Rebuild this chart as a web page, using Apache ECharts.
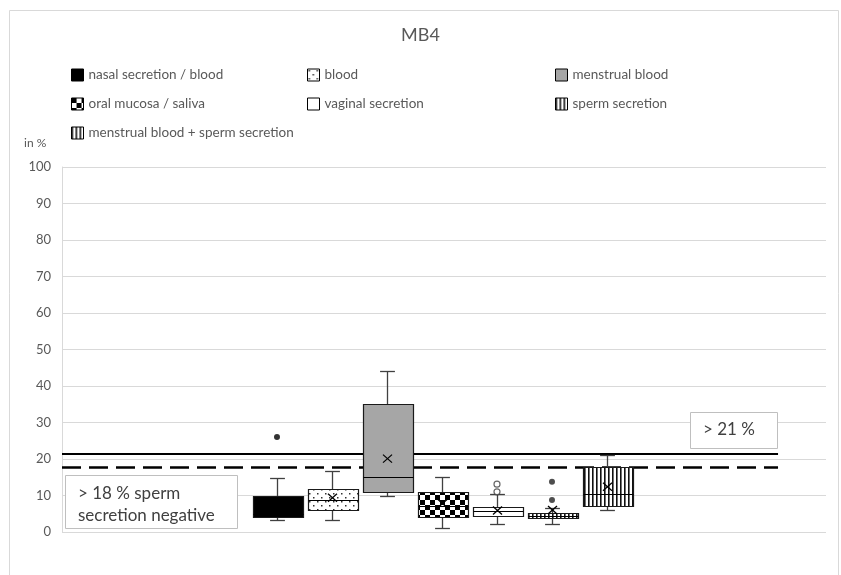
<!DOCTYPE html>
<html><head><meta charset="utf-8">
<script src="https://cdn.jsdelivr.net/npm/echarts/dist/echarts.min.js"></script>
<style>html,body{margin:0;padding:0;background:#fff}#c{width:841px;height:575px}</style>
</head><body><div id="c"></div>
<script>
// ---------- data ----------
const categories = ['nasal secretion / blood', 'blood', 'menstrual blood', 'oral mucosa / saliva', 'vaginal secretion', 'sperm secretion', 'menstrual blood + sperm secretion'];
const whiskerLow  = [3.2, 3.2, 10, 1.2, 2.2, 2.2, 6];
const quartile1   = [4, 6, 11, 4, 4.4, 3.8, 7];
const medianVals  = [5, 8.8, 15, 7, 5.7, 4.5, 10.5];
const quartile3   = [10, 11.7, 35, 11, 6.8, 5.3, 17.7];
const whiskerHigh = [14.9, 16.8, 44, 15, 10.3, 6.7, 21];
const meanVals    = [7, 9.4, 20.1, 7.8, 5.9, 6, 12.4];
const outliers    = [[26], [], [], [], [13.1, 11], [13.8, 8.8], []];
const yTicks      = [0, 10, 20, 30, 40, 50, 60, 70, 80, 90, 100];
const thresholdSolid  = 21.4;
const thresholdDashed = 17.7;
const titleText = 'MB4';
const yUnitText = 'in %';
const note18 = '> 18 % sperm\nsecretion negative';
const note21 = '> 21 %';

// ---------- styles ----------
function pattern(kind) {
  const c = document.createElement('canvas');
  const ctx = c.getContext('2d');
  if (kind === 'dots') {
    c.width = 8; c.height = 8;
    ctx.fillStyle = '#fff'; ctx.fillRect(0, 0, 8, 8);
    ctx.fillStyle = '#333'; ctx.fillRect(1, 1, 1.5, 1.5); ctx.fillRect(5, 5, 1.5, 1.5);
  } else if (kind === 'checker') {
    c.width = 10; c.height = 10;
    ctx.fillStyle = '#fff'; ctx.fillRect(0, 0, 10, 10);
    ctx.fillStyle = '#000'; ctx.fillRect(0, 0, 5, 5); ctx.fillRect(5, 5, 5, 5);
  } else if (kind === 'vstripes') {
    c.width = 4; c.height = 4;
    ctx.fillStyle = '#fff'; ctx.fillRect(0, 0, 4, 4);
    ctx.fillStyle = '#111'; ctx.fillRect(0, 0, 1.6, 4);
  }
  return { image: c, repeat: 'repeat' };
}
const fills = ['#000', pattern('dots'), '#a6a6a6', pattern('checker'), '#fff', pattern('vstripes'), pattern('vstripes')];
const outlierStyles = [
  { color: '#000' }, {}, {}, {},
  { color: '#fff', borderColor: '#404040', borderWidth: 1.2 },
  { color: '#222' }, {}
];
const strokeCol = '#404040';
const textCol = '#595959';
const FONT = 'Lato';

const xMin = -3.909, xMax = 9.982, lineEnd = 9.11;

function renderBox(params, api) {
  const x = api.value(0);
  const unit = api.size([1, 0])[0];
  const halfBox = unit * 0.4545;
  const halfCap = unit * 0.135;
  const cx = Math.round(api.coord([x, 0])[0]) + 0.5;
  const Y = i => Math.round(api.coord([x, api.value(i)])[1]) + 0.5;
  const yLow = Y(1), yQ1 = Y(2), yMed = Y(3), yQ3 = Y(4), yHigh = Y(5), yMean = api.coord([x, api.value(6)])[1];
  const ls = { stroke: strokeCol, lineWidth: 1.3 };
  const fill = fills[params.seriesIndex];
  const bx = Math.round(cx - halfBox) + 0.5, bw = Math.round(2 * halfBox);
  const xs = { stroke: '#000', lineWidth: 1.3 };
  return {
    type: 'group', children: [
      { type: 'line', shape: { x1: cx, y1: yHigh, x2: cx, y2: yQ3 }, style: ls },
      { type: 'line', shape: { x1: cx, y1: yQ1, x2: cx, y2: yLow }, style: ls },
      { type: 'line', shape: { x1: cx - halfCap, y1: yHigh, x2: cx + halfCap, y2: yHigh }, style: ls },
      { type: 'line', shape: { x1: cx - halfCap, y1: yLow, x2: cx + halfCap, y2: yLow }, style: ls },
      { type: 'rect', shape: { x: bx, y: yQ3, width: bw, height: yQ1 - yQ3 }, style: { fill: fill, stroke: '#1a1a1a', lineWidth: 1.2 } },
      { type: 'line', shape: { x1: bx, y1: yMed, x2: bx + bw, y2: yMed }, style: { stroke: '#000', lineWidth: 1.2 } },
      { type: 'line', shape: { x1: cx - 4.5, y1: yMean - 4, x2: cx + 4.5, y2: yMean + 4 }, style: xs },
      { type: 'line', shape: { x1: cx - 4.5, y1: yMean + 4, x2: cx + 4.5, y2: yMean - 4 }, style: xs }
    ]
  };
}

const series = [];
categories.forEach((name, i) => {
  series.push({
    name: name, type: 'custom', renderItem: renderBox,
    itemStyle: { color: fills[i] },
    encode: { x: 0, y: [1, 2, 3, 4, 5, 6] },
    data: [[i, whiskerLow[i], quartile1[i], medianVals[i], quartile3[i], whiskerHigh[i], meanVals[i]]],
    z: 3
  });
});
categories.forEach((name, i) => {
  if (!outliers[i].length) return;
  series.push({
    name: 'outliers ' + name, type: 'scatter', symbol: 'circle', symbolSize: 6,
    itemStyle: outlierStyles[i],
    data: outliers[i].map(v => [i, v]), z: 4
  });
});
series.push({
  name: 'threshold solid', type: 'line', symbol: 'none', silent: true,
  lineStyle: { color: '#000', width: 2 },
  data: [[xMin, thresholdSolid], [lineEnd, thresholdSolid]], z: 2
});
series.push({
  name: 'threshold dashed', type: 'line', symbol: 'none', silent: true,
  lineStyle: { color: '#000', width: 2.5, type: [19, 8] },
  data: [[xMin, thresholdDashed], [lineEnd, thresholdDashed]], z: 2
});

const legendCols = [71, 307, 555];
const legendRows = [68, 97, 126];
const legends = categories.map((name, i) => ({
  left: legendCols[i % 3], top: legendRows[Math.floor(i / 3)],
  orient: 'horizontal', selectedMode: false, padding: 0,
  itemWidth: 12, itemHeight: 12, itemGap: 5,
  textStyle: { fontFamily: FONT, fontSize: 13.5, color: textCol },
  data: [{ name: name, icon: 'rect', itemStyle: { color: fills[i], borderColor: '#000', borderWidth: 1 } }]
}));

const chart = echarts.init(document.getElementById('c'), null, { renderer: 'canvas' });
chart.setOption({
  animation: false,
  backgroundColor: '#fff',
  title: { text: titleText, left: 'center', top: 21, textStyle: { fontFamily: FONT, fontSize: 18, fontWeight: 'normal', color: textCol } },
  legend: legends,
  grid: { left: 62, right: 15, top: 167, bottom: 43 },
  xAxis: { type: 'value', min: xMin, max: xMax, show: false },
  yAxis: {
    type: 'value', min: yTicks[0], max: yTicks[yTicks.length - 1], interval: yTicks[1] - yTicks[0],
    axisLine: { show: true, onZero: false, lineStyle: { color: '#d9d9d9' } },
    axisTick: { show: false },
    axisLabel: { fontFamily: FONT, fontSize: 13, color: textCol, margin: 11 },
    splitLine: { lineStyle: { color: '#d9d9d9', width: 1 } }
  },
  graphic: [
    { type: 'rect', shape: { x: 9.5, y: 10.5, width: 829, height: 600 }, style: { fill: 'none', stroke: '#d9d9d9', lineWidth: 1 }, z: 0, silent: true },
    { type: 'text', left: 24, top: 137, style: { text: yUnitText, font: '12px Lato', fill: textCol } },
    { type: 'rect', z: 100, shape: { x: 65.5, y: 475.5, width: 172, height: 53 }, style: { fill: '#fff', stroke: '#bfbfbf', lineWidth: 1 } },
    { type: 'text', z: 101, x: 78, y: 483, style: { text: note18, font: '17px Lato', fill: '#404040', lineHeight: 22 } },
    { type: 'rect', z: 100, shape: { x: 690.5, y: 412.5, width: 87, height: 36 }, style: { fill: '#fff', stroke: '#bfbfbf', lineWidth: 1 } },
    { type: 'text', z: 101, x: 703, y: 421, style: { text: note21, font: '17px Lato', fill: '#404040' } }
  ],
  series: series
});
</script></body></html>
